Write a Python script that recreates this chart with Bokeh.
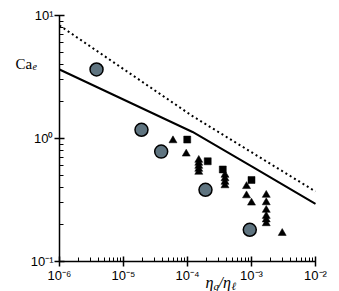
from bokeh.plotting import figure
from bokeh.models import Range1d, FixedTicker, CustomJSTickFormatter, Label, LogAxis
from bokeh.embed import file_html
from bokeh.resources import INLINE

# ---- data ----
circle_x = [3.79e-6, 1.91e-5, 3.88e-5, 1.91e-4, 9.4e-4]
circle_y = [3.64, 1.177, 0.783, 0.383, 0.181]

square_x = [9.9e-5, 2.07e-4, 3.56e-4, 1.0e-3]
square_y = [0.98, 0.653, 0.56, 0.46]

triangle_x = [5.93e-5, 9.55e-5,
              1.50e-4, 1.50e-4, 1.50e-4, 1.50e-4, 1.50e-4,
              3.85e-4, 3.85e-4, 3.85e-4, 3.85e-4,
              8.36e-4, 8.36e-4, 1.0e-3,
              1.70e-3, 1.70e-3, 1.70e-3, 1.70e-3, 1.70e-3, 1.70e-3,
              3.02e-3]
triangle_y = [0.964, 0.751,
              0.668, 0.632, 0.597, 0.565, 0.534,
              0.505, 0.473, 0.443, 0.415,
              0.409, 0.344, 0.300,
              0.347, 0.302, 0.262, 0.234, 0.219, 0.204,
              0.170]

solid_x = [1e-6, 1.2e-4, 1.155e-3, 1e-2]
solid_y = [3.64, 1.13, 0.570, 0.294]

dotted_x = [1e-6, 1.2e-4, 1e-2]
dotted_y = [8.30, 1.52, 0.371]

x_major = [1e-6, 1e-5, 1e-4, 1e-3, 1e-2]
y_major = [0.1, 1.0, 10.0]

# ---- layout helpers (pixel -> data, for placing the frame and titles) ----
W, H = 339, 291
X0, XPD = 59, 64.0      # pixel of 1e-6, pixels per decade (x)
Y0, YPD = 15, 123.0     # pixel of 1e1, pixels per decade (y)


def X(px):
    return 10 ** (-6 + (px - X0) / XPD)


def Y(py):
    return 10 ** (1 - (py - Y0) / YPD)


p = figure(width=W, height=H, x_axis_type="log", y_axis_type="log",
           x_axis_location=None, y_axis_location=None,
           x_range=Range1d(X(0), X(W)), y_range=Range1d(Y(H), Y(0)),
           output_backend="svg", toolbar_location=None, min_border=0)
p.outline_line_color = None
p.grid.visible = False
p.background_fill_color = "white"
p.border_fill_color = "white"

x_minor = [k * m for m in x_major[:-1] for k in range(2, 10)]
y_minor = [k * m for m in y_major[:-1] for k in range(2, 10)]

fmt_code = """
const sup = {'-':'\u207b','0':'\u2070','1':'\u00b9','2':'\u00b2','3':'\u00b3','4':'\u2074',
             '5':'\u2075','6':'\u2076','7':'\u2077','8':'\u2078','9':'\u2079'};
const e = Math.round(Math.log10(tick));
return '10' + String(e).split('').map(c => sup[c]).join('');
"""

xaxis = LogAxis(ticker=FixedTicker(ticks=x_major, minor_ticks=x_minor),
                fixed_location=y_major[0], bounds=(x_major[0], x_major[-1]))
yaxis = LogAxis(ticker=FixedTicker(ticks=y_major, minor_ticks=y_minor),
                fixed_location=x_major[0], bounds=(y_major[0], y_major[-1]))
for ax in (xaxis, yaxis):
    ax.formatter = CustomJSTickFormatter(code=fmt_code)
    ax.axis_line_width = 1.5
    ax.axis_line_color = "black"
    ax.major_tick_line_width = 1.5
    ax.major_tick_line_color = "black"
    ax.major_tick_in = 5
    ax.major_tick_out = 5
    ax.minor_tick_line_width = 1
    ax.minor_tick_line_color = "black"
    ax.minor_tick_in = 4
    ax.minor_tick_out = 0
    ax.major_label_text_font = "Liberation Sans"
    ax.major_label_text_font_size = "13px"
    ax.major_label_text_color = "black"
    ax.major_label_standoff = 1
p.add_layout(xaxis, "below")
p.add_layout(yaxis, "left")

# lines
p.line(dotted_x, dotted_y, line_color="black", line_width=2, line_dash="2 3")
p.line(solid_x, solid_y, line_color="black", line_width=2)

# markers
p.scatter(triangle_x, triangle_y, marker="triangle", size=8, fill_color="black",
          line_color="black", line_width=0.5)
p.scatter(square_x, square_y, marker="square", size=7, fill_color="black",
          line_color="black", line_width=0.5)
p.scatter(circle_x, circle_y, marker="circle", size=13, fill_color="#5f7480",
          line_color="black", line_width=1.5)

# axis titles
serif = "Liberation Serif"
titles = [
    ("Ca", 15, 63, "15px", "normal"),
    ("e", 32, 66, "10px", "italic"),
    ("\u03b7", 205, 282, "16px", "italic"),
    ("g", 213, 285, "11px", "italic"),
    ("/\u03b7", 218, 282, "16px", "italic"),
    ("\u2113", 231, 285, "11px", "italic"),
]
for txt, px, py, fs, style in titles:
    p.add_layout(Label(x=X(px), y=Y(py), text=txt, text_font=serif,
                       text_font_style=style, text_font_size=fs,
                       text_color="black", text_baseline="alphabetic"))

open("out.html", "w").write(file_html(p, INLINE))
